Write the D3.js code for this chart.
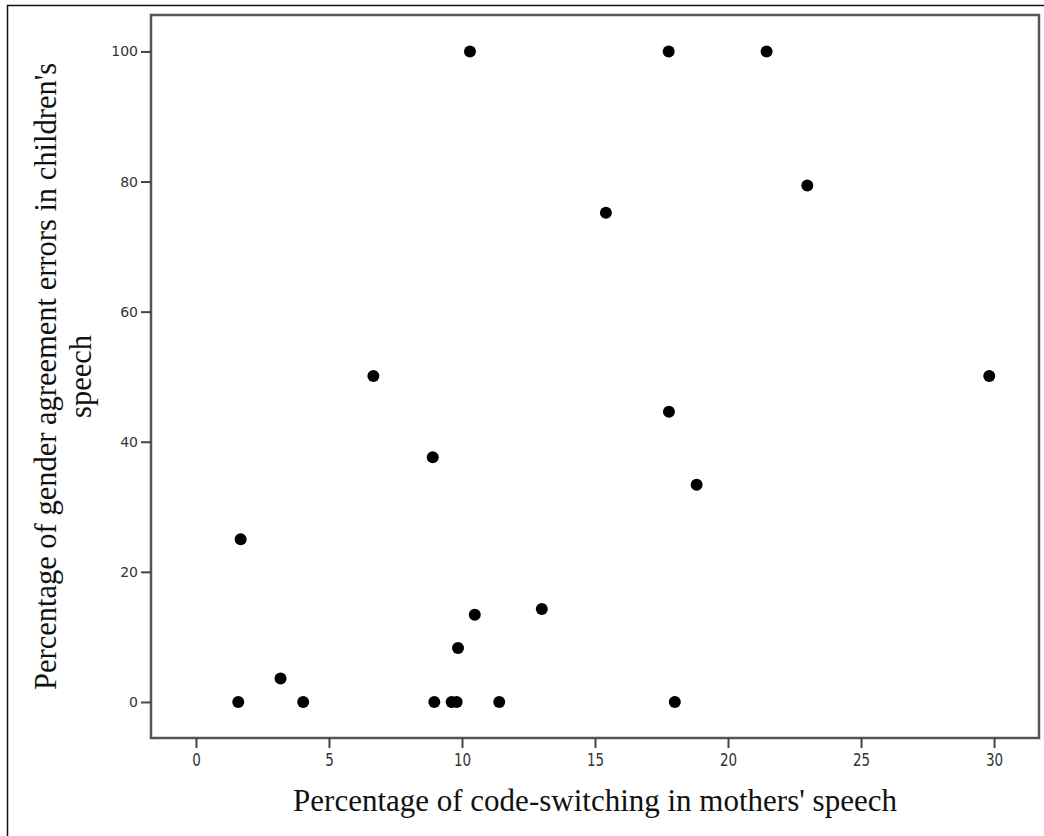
<!DOCTYPE html>
<html>
<head>
<meta charset="utf-8">
<script src="https://cdn.jsdelivr.net/npm/d3@7"></script>
<style>
  body { margin: 0; background: #fff; }
  svg { display: block; }
</style>
</head>
<body>
<svg id="chart"></svg>
<script>
// code-switching in mothers' speech (%)
const motherCS = [10.3, 17.77, 21.45, 22.98, 15.41, 6.67, 29.82, 17.78, 8.9, 18.82,
                  1.68, 13.0, 10.48, 9.85, 3.18, 1.59, 4.03, 8.96, 9.61, 9.8, 11.4, 18.0];
// gender agreement errors in children's speech (%)
const childErr  = [100, 100, 100, 79.4, 75.2, 50.1, 50.1, 44.6, 37.6, 33.4,
                   25.0, 14.3, 13.4, 8.3, 3.6, 0, 0, 0, 0, 0, 0, 0];
const xTicks = [0, 5, 10, 15, 20, 25, 30];
const yTicks = [0, 20, 40, 60, 80, 100];
const xTitle = "Percentage of code-switching in mothers' speech";
const yTitle = ["Percentage of gender agreement errors in children's", "speech"];

const w = 1044, h = 836;
const box = {left: 151, top: 15, right: 1039, bottom: 738};

const svg = d3.select('#chart')
    .attr('width', w)
    .attr('height', h)

//outer frame
svg.append('rect')
    .attr('x', 7.5)
    .attr('y', 5.5)
    .attr('width', 1100)
    .attr('height', 900)
    .attr('fill', 'none')
    .attr('stroke', '#111')
    .attr('stroke-width', 1.5)

const x = d3.scaleLinear()
    .domain([-1.69, 31.69])
    .range([box.left, box.right])

const y = d3.scaleLinear()
    .domain([-5.54, 105.6])
    .range([box.bottom, box.top])

//plot box
svg.append('rect')
    .attr('x', box.left)
    .attr('y', box.top)
    .attr('width', box.right - box.left)
    .attr('height', box.bottom - box.top)
    .attr('fill', 'none')
    .attr('stroke', '#555')
    .attr('stroke-width', 2.5)

//axes
const yAxis = svg.append('g')
    .attr('transform', 'translate(' + box.left + ',0)')
    .call(d3.axisLeft(y).tickValues(yTicks).tickSize(10).tickPadding(3).tickFormat(d3.format('d')))

const xAxis = svg.append('g')
    .attr('transform', 'translate(0,' + box.bottom + ')')
    .call(d3.axisBottom(x).tickValues(xTicks).tickSize(10).tickPadding(5).tickFormat(d3.format('d')))

svg.selectAll('.domain').remove()
svg.selectAll('.tick line')
    .attr('stroke', '#444')
    .attr('stroke-width', 2)
svg.selectAll('.tick text')
    .attr('fill', '#333')
    .attr('font-family', 'DejaVu Sans')
    .attr('font-size', '14px')

xAxis.selectAll('.tick text')
    .attr('font-size', '15px')
    .attr('transform', 'scale(0.9,1.2)')
    .attr('y', 13)

//points
svg.append('g')
    .selectAll('circle')
    .data(d3.zip(motherCS, childErr))
    .enter()
    .append('circle')
    .attr('r', 6)
    .attr('cx', d => x(d[0]))
    .attr('cy', d => y(d[1]))
    .attr('fill', 'black')

//axis titles
svg.append('text')
    .attr('x', (box.left + box.right) / 2)
    .attr('y', 811)
    .attr('text-anchor', 'middle')
    .attr('font-family', 'Liberation Serif')
    .attr('font-size', '31px')
    .attr('fill', '#111')
    .text(xTitle)

const cy = (box.top + box.bottom) / 2;
svg.append('g')
    .selectAll('text')
    .data(yTitle)
    .enter()
    .append('text')
    .attr('transform', (d, i) => 'translate(' + (56 + i * 35) + ',' + cy + ') rotate(-90)')
    .attr('text-anchor', 'middle')
    .attr('font-family', 'Liberation Serif')
    .attr('font-size', '30.5px')
    .attr('fill', '#111')
    .text(d => d)
</script>
</body>
</html>
